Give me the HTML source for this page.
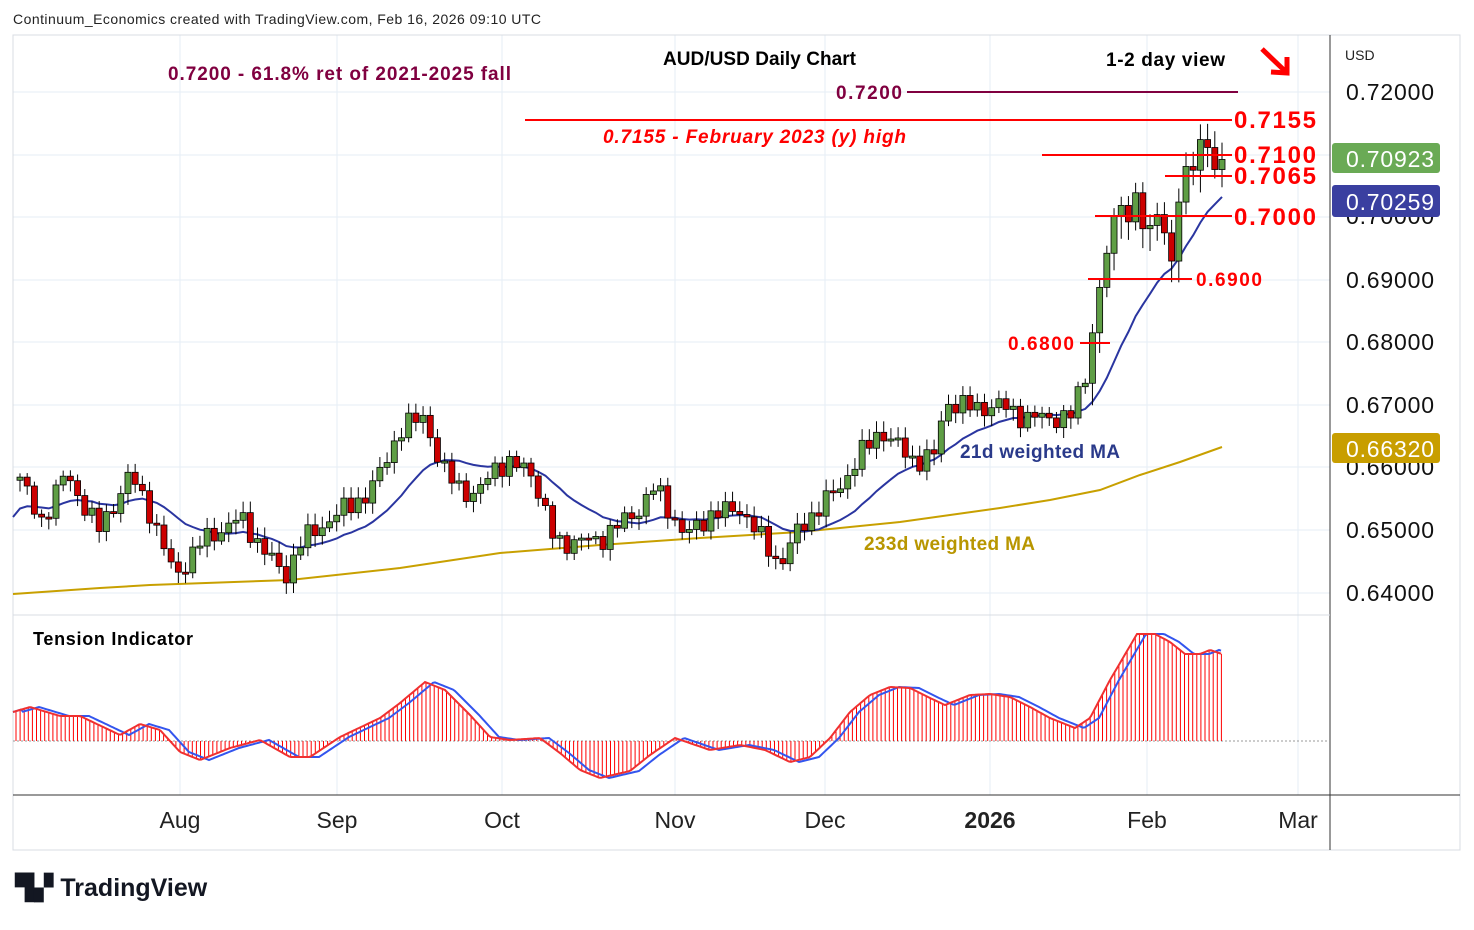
<!DOCTYPE html>
<html><head><meta charset="utf-8"><style>
body{margin:0;background:#fff;width:1474px;height:925px;overflow:hidden;font-family:"Liberation Sans",sans-serif}
</style></head><body>
<svg id="s" width="1474" height="925" xmlns="http://www.w3.org/2000/svg" font-family="Liberation Sans, DejaVu Sans, sans-serif">
<rect x="0" y="0" width="1474" height="925" fill="#fff"/>
<g stroke="#e6edf5" stroke-width="1">
<line x1="13" y1="92" x2="1330" y2="92"/><line x1="13" y1="155" x2="1330" y2="155"/><line x1="13" y1="217" x2="1330" y2="217"/>
<line x1="13" y1="280" x2="1330" y2="280"/><line x1="13" y1="342" x2="1330" y2="342"/><line x1="13" y1="405" x2="1330" y2="405"/>
<line x1="13" y1="467" x2="1330" y2="467"/><line x1="13" y1="530" x2="1330" y2="530"/><line x1="13" y1="593" x2="1330" y2="593"/>
<line x1="180" y1="35" x2="180" y2="795"/><line x1="337" y1="35" x2="337" y2="795"/><line x1="502" y1="35" x2="502" y2="795"/>
<line x1="675" y1="35" x2="675" y2="795"/><line x1="825" y1="35" x2="825" y2="795"/><line x1="990" y1="35" x2="990" y2="795"/>
<line x1="1147" y1="35" x2="1147" y2="795"/><line x1="1298" y1="35" x2="1298" y2="795"/>
</g>
<rect x="13" y="35" width="1447" height="815" fill="none" stroke="#d8dce3"/>
<line x1="1330" y1="35" x2="1330" y2="850" stroke="#333"/>
<line x1="13" y1="795" x2="1460" y2="795" stroke="#333"/>
<line x1="13" y1="615" x2="1330" y2="615" stroke="#d8dce3"/>
<line x1="13" y1="741" x2="1330" y2="741" stroke="#999" stroke-dasharray="2,2"/>
<g id="ind"></g>
<polyline fill="none" stroke="#c8a000" stroke-width="2" points="13,594 100,588 150,585 290,580 400,568 500,553 600,545 700,538 800,532 900,522 1000,508 1050,500 1100,490 1140,475 1180,462 1222,447"/>
<g id="ma"></g>
<g id="cd"></g>
<g stroke-width="2">
<line x1="907" y1="92" x2="1238" y2="92" stroke="#800040"/>
<line x1="525" y1="120" x2="1232" y2="120" stroke="#f00"/>
<line x1="1042" y1="155" x2="1232" y2="155" stroke="#f00"/>
<line x1="1165" y1="176" x2="1232" y2="176" stroke="#f00"/>
<line x1="1095" y1="216" x2="1232" y2="216" stroke="#f00"/>
<line x1="1088" y1="279" x2="1192" y2="279" stroke="#f00"/>
<line x1="1080" y1="343" x2="1110" y2="343" stroke="#f00"/>
</g>
<g font-weight="bold" fill="#f00" font-size="24">
<text x="1234" y="128" textLength="82">0.7155</text><text x="1234" y="163" textLength="82">0.7100</text><text x="1234" y="184" textLength="82">0.7065</text><text x="1234" y="225" textLength="82">0.7000</text>
</g>
<text x="1196" y="286" fill="#f00" font-size="19" font-weight="bold" textLength="66">0.6900</text>
<text x="1008" y="350" fill="#f00" font-size="19" font-weight="bold" textLength="66">0.6800</text>
<text x="836" y="99" fill="#800040" font-size="19" font-weight="bold" textLength="66">0.7200</text>
<text x="603" y="143" fill="#f00" font-size="19" font-weight="bold" font-style="italic" textLength="303">0.7155 - February 2023 (y) high</text>
<text x="168" y="80" fill="#800040" font-size="19" font-weight="bold" textLength="343">0.7200 - 61.8% ret of 2021-2025 fall</text>
<text x="663" y="65" fill="#000" font-size="19" font-weight="bold" textLength="193">AUD/USD Daily Chart</text>
<text x="1106" y="66" fill="#000" font-size="19" font-weight="bold" textLength="119">1-2 day view</text>
<g stroke="#f00" stroke-width="5" fill="none"><line x1="1262" y1="49" x2="1285" y2="71"/><polyline points="1271,72 1287,73 1287,57"/></g>
<text x="960" y="458" fill="#2a3a8a" font-size="19" font-weight="bold" textLength="160">21d weighted MA</text>
<text x="864" y="550" fill="#b89600" font-size="19" font-weight="bold" textLength="171">233d weighted MA</text>
<text x="33" y="645" fill="#000" font-size="18" font-weight="bold" textLength="160">Tension Indicator</text>
<text x="13" y="24" fill="#222" font-size="14" textLength="528">Continuum_Economics created with TradingView.com, Feb 16, 2026 09:10 UTC</text>
<text x="1345" y="60" fill="#222" font-size="14">USD</text>
<g font-size="23" fill="#111">
<text x="1346" y="100" textLength="88">0.72000</text><text x="1346" y="224" textLength="88">0.70000</text><text x="1346" y="288" textLength="88">0.69000</text><text x="1346" y="350" textLength="88">0.68000</text>
<text x="1346" y="413" textLength="88">0.67000</text><text x="1346" y="475" textLength="88">0.66000</text><text x="1346" y="538" textLength="88">0.65000</text><text x="1346" y="601" textLength="88">0.64000</text>
</g>
<rect x="1332" y="143" width="108" height="30" rx="3" fill="#6aaa55"/><text x="1346" y="167" fill="#fff" font-size="23" textLength="88">0.70923</text>
<rect x="1332" y="185" width="108" height="32" rx="3" fill="#3a3fa0"/><text x="1346" y="210" fill="#fff" font-size="23" textLength="88">0.70259</text>
<rect x="1332" y="433" width="108" height="30" rx="3" fill="#c89e00"/><text x="1346" y="457" fill="#fff" font-size="23" textLength="88">0.66320</text>
<g font-size="23" fill="#222" text-anchor="middle">
<text x="180" y="828">Aug</text><text x="337" y="828">Sep</text><text x="502" y="828">Oct</text><text x="675" y="828">Nov</text>
<text x="825" y="828">Dec</text><text x="990" y="828" font-weight="bold">2026</text><text x="1147" y="828">Feb</text><text x="1298" y="828">Mar</text>
</g>
<text x="15" y="896" font-size="25" font-weight="bold" fill="#131722">▜▞ TradingView</text>
</svg>
<script>
var NS="http://www.w3.org/2000/svg";
function el(p,t,a){var e=document.createElementNS(NS,t);for(var k in a)e.setAttribute(k,a[k]);p.appendChild(e);return e;}
function interp(w,x){for(var i=0;i<w.length-1;i++){if(x>=w[i][0]&&x<=w[i+1][0]){var f=(x-w[i][0])/(w[i+1][0]-w[i][0]);return w[i][1]+f*(w[i+1][1]-w[i][1]);}}return x<w[0][0]?w[0][1]:w[w.length-1][1];}
var W=[[20,.6585],[40,.651],[65,.659],[100,.650],[130,.659],[150,.653],[175,.6425],[200,.648],[240,.652],[285,.6425],[300,.648],[340,.653],[370,.656],[400,.666],[425,.6685],[440,.660],[475,.655],[495,.6605],[530,.660],[555,.648],[600,.6485],[640,.6535],[655,.657],[685,.649],[710,.6525],[740,.6535],[780,.6445],[800,.6505],[840,.657],[860,.662],[880,.666],[915,.661],[935,.662],[945,.6705],[975,.6695],[1000,.670],[1025,.668],[1070,.668],[1085,.6745],[1100,.689],[1115,.7005],[1123,.703],[1130,.698],[1137,.7055],[1145,.695],[1152,.700],[1158,.701],[1165,.697],[1172,.693],[1178,.701],[1185,.7085],[1193,.7075],[1200,.7125],[1207,.7115],[1215,.707],[1222,.70923]];
function Y(p){return 92+(0.72-p)*6262.5;}
var N=168,xs=[],cl=[];
for(var i=0;i<N;i++){var x=20+i*(1202/(N-1));xs.push(x);var n=Math.sin(i*2.7)*0.0012+Math.sin(i*1.3)*0.0008;cl.push(interp(W,x)+(x>1090?n*0.3:n));}
cl[N-1]=0.70923;
var cd=document.getElementById("cd"),prev=0.658;
var all=[];for(var k=0;k<20;k++)all.push(0.653);all=all.concat(cl);var pts=[];
for(var i=0;i<N;i++){var s=0,ws=0;for(var j=0;j<21;j++){var w=21-j;s+=all[i+20-j]*w;ws+=w;}pts.push(xs[i].toFixed(1)+","+Y(s/ws).toFixed(1));}
el(document.getElementById("ma"),"polyline",{points:"13,517 "+pts.join(" "),fill:"none",stroke:"#2a35a0","stroke-width":2});
for(var i=0;i<N;i++){var o=prev,c=cl[i];var big=xs[i]>1090?2:1;var hi=Math.max(o,c)+(0.0006+Math.abs(Math.sin(i*3.1))*0.0012)*big,lo=Math.min(o,c)-(0.0006+Math.abs(Math.cos(i*2.3))*0.0012)*big;
var up=c>=o;var x=xs[i];
el(cd,"line",{x1:x,x2:x,y1:Y(hi),y2:Y(lo),stroke:"#000","stroke-width":1});
var t=Y(Math.max(o,c)),b=Y(Math.min(o,c));if(b-t<2)b=t+2;
el(cd,"rect",{x:x-3,y:t,width:6,height:b-t,fill:up?"#5f9e45":"#cc0000",stroke:"#000","stroke-width":0.8});prev=c;}
var T=[[13,712],[30,707],[60,716],[80,716],[120,735],[140,724],[160,730],[180,752],[200,760],[230,748],[260,740],[290,757],[310,757],[340,737],[380,718],[400,703],[425,682],[445,690],[470,715],[490,737],[510,740],[540,738],[560,753],[580,770],[600,778],[630,771],[650,755],[675,738],[710,750],[740,745],[765,750],[790,762],[810,757],[830,738],[850,712],[870,695],[890,687],[910,688],[930,698],[945,705],[970,695],[990,694],[1010,697],[1030,707],[1050,718],[1075,728],[1090,718],[1110,680],[1137,634],[1155,634],[1170,642],[1185,654],[1200,654],[1210,650],[1222,654]];
var ind=document.getElementById("ind"),rp=[],bp=[];
for(var x=13;x<=1222;x+=2){rp.push(x+","+interp(T,x).toFixed(1));var xb=x-9;var v=x<22?interp(T,x):interp(T,xb);bp.push(x+","+v.toFixed(1));}
for(var x=16;x<=1222;x+=4.1){el(ind,"line",{x1:x,x2:x,y1:741,y2:interp(T,x),stroke:"#f00","stroke-width":1});}
el(ind,"polyline",{points:bp.join(" "),fill:"none",stroke:"#3355ee","stroke-width":2});
el(ind,"polyline",{points:rp.join(" "),fill:"none",stroke:"#f03030","stroke-width":2});
</script>
</body></html>
